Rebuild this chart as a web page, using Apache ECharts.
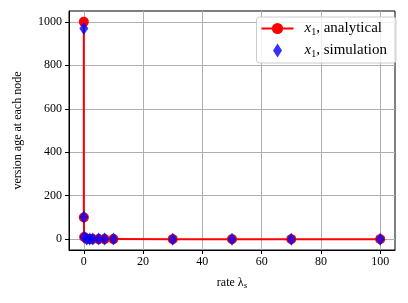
<!DOCTYPE html>
<html><head><meta charset="utf-8">
<script src="https://cdn.jsdelivr.net/npm/echarts@6/dist/echarts.min.js"></script>
<style>html,body{margin:0;padding:0;background:#fff}#c{width:408px;height:303px}</style>
</head><body><div id="c"></div>
<script>
const rates = [0.001, 0.01, 0.1, 1, 2, 3, 5, 7, 10, 30, 50, 70, 100];
const analytical = [1000, 100, 10, 1, 0.5, 0.333, 0.2, 0.143, 0.1, 0.033, 0.02, 0.014, 0.01];
const simulation = [970, 102, 10.3, 1.0, 0.5, 0.33, 0.2, 0.14, 0.1, 0.033, 0.02, 0.014, 0.01];
const xTicks = [0, 20, 40, 60, 80, 100];
const yTicks = [0, 200, 400, 600, 800, 1000];

const font = 'Liberation Serif';
const chart = echarts.init(document.getElementById('c'), null, {renderer: 'canvas'});
const richLeg = {
  i: {fontFamily: font, fontStyle: 'italic', fontSize: 15, color: '#000'},
  s: {fontFamily: font, fontSize: 10, color: '#000', verticalAlign: 'bottom', padding: [7, 0, 0, 0]},
  t: {fontFamily: font, fontSize: 15, color: '#000'}
};
chart.setOption({
  animation: false,
  grid: {left: 69, right: 13, top: 11, bottom: 53, show: true, borderColor: '#000', borderWidth: 1},
  legend: {
    right: 12, top: 17, orient: 'vertical', itemGap: 6,
    backgroundColor: 'rgba(255,255,255,0.8)', borderColor: '#cccccc', borderWidth: 1, borderRadius: 3,
    padding: [4, 9, 4, 4], itemWidth: 32, itemHeight: 14,
    textStyle: {rich: richLeg, padding: [0, 0, 0, 6]},
    formatter: function (n) {
      return n === 'a' ? '{i|x}{s|1}{t|, analytical}' : '{i|x}{s|1}{t|, simulation}';
    },
    data: [{name: 'a'}, {name: 's', icon: 'path://M0,0 M32,14 M16,0 L20.5,7 L16,14 L11.5,7 Z'}]
  },
  xAxis: {
    type: 'value', min: -5, max: 105,
    name: 'rate λ{s|s}', nameLocation: 'middle', nameGap: 26,
    nameTextStyle: {fontFamily: font, fontSize: 12, color: '#000', rich: {s: {fontFamily: font, fontSize: 9, fontStyle: 'italic', verticalAlign: 'bottom', padding: [5,0,0,0]}}},
    axisLine: {show: true, onZero: false, lineStyle: {color: '#000', width: 1}},
    axisTick: {show: true, length: 4, customValues: xTicks, lineStyle: {color: '#000'}},
    axisLabel: {customValues: xTicks, fontFamily: font, fontSize: 12, color: '#000', margin: 6},
    splitLine: {show: true, lineStyle: {color: '#b0b0b0', width: 1}}
  },
  yAxis: {
    type: 'value', min: -50, max: 1050,
    name: 'version age at each node', nameLocation: 'middle', nameGap: 45,
    nameTextStyle: {fontFamily: font, fontSize: 12, color: '#000'},
    axisLine: {show: true, onZero: false, lineStyle: {color: '#000', width: 1}},
    axisTick: {show: true, length: 4, customValues: yTicks, lineStyle: {color: '#000'}},
    axisLabel: {customValues: yTicks, formatter: v => String(v), fontFamily: font, fontSize: 12, color: '#000', margin: 7},
    splitLine: {show: true, lineStyle: {color: '#b0b0b0', width: 1}}
  },
  series: [
    {
      name: 'a', type: 'line', data: rates.map((x, i) => [x, analytical[i]]),
      symbol: 'circle', symbolSize: 10, showAllSymbol: true,
      lineStyle: {color: '#ff0000', width: 2}, itemStyle: {color: '#ff0000'}, z: 2
    },
    {
      name: 's', type: 'scatter', data: rates.map((x, i) => [x, simulation[i]]),
      symbol: 'diamond', symbolSize: [9, 13],
      itemStyle: {color: '#0000ff'}, z: 3
    }
  ]
});
</script></body></html>
